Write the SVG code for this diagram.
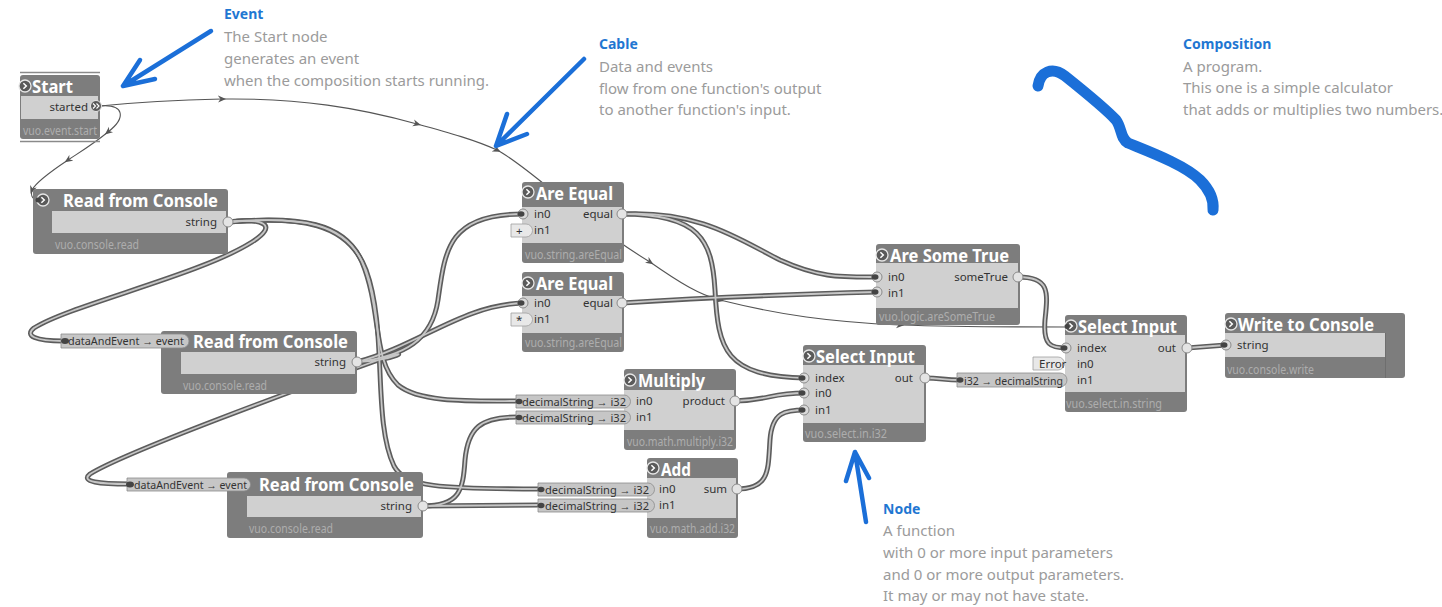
<svg xmlns="http://www.w3.org/2000/svg" xmlns:xlink="http://www.w3.org/1999/xlink" width="1442" height="607" viewBox="0 0 1442 607">
<style>
.nb{fill:#7d7d7d}
.bd{fill:#d0d0d0}
.tt{font-family:"Noto Sans","Open Sans",sans-serif;font-weight:bold;font-size:18px;fill:#fff}
.pl{font-family:"Noto Sans",sans-serif;font-size:11.5px;fill:#333}
.ft{font-family:"Noto Sans",sans-serif;font-size:12px;fill:#adadad}
.hd{font-family:"Noto Sans",sans-serif;font-weight:bold;font-size:14px;fill:#1f77d2}
.an{font-family:"Noto Sans",sans-serif;font-size:15px;fill:#9b9b9b}
.co{fill:none;stroke:#5c5c5c;stroke-width:5;stroke-linecap:round}
.ci{fill:none;stroke:#c6c6c6;stroke-width:1.8;stroke-linecap:round}
.ev{fill:none;stroke:#555;stroke-width:1.1}
.ba{fill:none;stroke:#1b6fd8;stroke-width:4.5;stroke-linecap:round;stroke-linejoin:round}
.bs{fill:none;stroke:#1b6fd8;stroke-width:11;stroke-linecap:round;stroke-linejoin:round}
.ip{fill:#dadada;stroke:#8a8a8a;stroke-width:1}
.op{fill:#e4e4e4;stroke:#8a8a8a;stroke-width:1}
.dot{fill:#444}
.cv{fill:#c6c6c6;stroke:#8c8c8c;stroke-width:0.8}
.cst{fill:#e8e8e8;stroke:#a0a0a0;stroke-width:0.8}
</style>
<defs>
<marker id="ea" markerWidth="9" markerHeight="8" refX="4" refY="4" orient="auto" markerUnits="userSpaceOnUse">
<path d="M0,0.5 L8,4 L0,7.5 L2.5,4 Z" fill="#555"/>
</marker>
<g id="evp"><circle r="6" fill="#5a5a5a" stroke="#e6e6e6" stroke-width="1.3"/><path d="M-1.6,-2.8 L1.3,0 L-1.6,2.8" fill="none" stroke="#fff" stroke-width="1.5"/></g>
</defs>

<g id="connectors">
<!-- event cables -->
<path class="ev" marker-mid="url(#ea)" d="M100,106 C125,104 126,118 108,132 C92,145 80,152 68,160 C50,172 36,182 32,190 C30,197 34,200 38,200"/>
<path class="ev" marker-mid="url(#ea)" d="M100,106 C140,102 180,100 222,99 C300,98 360,108 417,124 C450,133 475,140 497,150 C520,162 550,190 584,216 C610,236 630,250 650,262 C680,283 700,295 720,300 C780,315 830,322 900,325 C960,327 1020,327 1066,327"/>
<!-- data cables outer -->
<path class="co" d="M228,222 C300,216 345,222 362,262 C382,310 372,360 398,385 C420,403 470,401 518,401"/>
<path class="co" d="M228,222 C300,216 348,222 366,270 C388,330 372,420 394,466 C405,487 440,489 540,489"/>
<path class="co" d="M228,222 C262,218 280,224 252,242 C200,275 70,305 34,328 C24,336 36,341 63,341"/>
<path class="co" d="M357,362 C405,356 432,340 438,300 C445,250 448,214 523,214"/>
<path class="co" d="M357,362 C420,345 462,305 523,303"/>
<path class="co" d="M357,362 C398,360 412,348 384,358 C300,388 125,452 90,474 C80,482 100,484 129,484"/>
<path class="co" d="M423,506 C460,506 463,490 465,460 C468,428 480,417 518,417"/>
<path class="co" d="M423,506 L540,505"/>
<path class="co" d="M622,214 C700,210 740,240 780,260 C820,278 840,277 877,277"/>
<path class="co" d="M622,214 C700,214 712,240 715,290 C718,350 725,376 805,378"/>
<path class="co" d="M622,303 C700,298 800,294 877,292"/>
<path class="co" d="M1018,277 C1050,277 1048,292 1045,320 C1043,345 1050,348 1067,348"/>
<path class="co" d="M735,401 C770,400 770,393 805,393"/>
<path class="co" d="M737,489 C770,489 768,470 770,440 C772,412 785,410 805,410"/>
<path class="co" d="M925,378 C940,378 945,380 959,380"/>
<path class="co" d="M1187,348 L1226,345"/>
<!-- data cables inner -->
<path class="ci" d="M228,222 C300,216 345,222 362,262 C382,310 372,360 398,385 C420,403 470,401 518,401"/>
<path class="ci" d="M228,222 C300,216 348,222 366,270 C388,330 372,420 394,466 C405,487 440,489 540,489"/>
<path class="ci" d="M228,222 C262,218 280,224 252,242 C200,275 70,305 34,328 C24,336 36,341 63,341"/>
<path class="ci" d="M357,362 C405,356 432,340 438,300 C445,250 448,214 523,214"/>
<path class="ci" d="M357,362 C420,345 462,305 523,303"/>
<path class="ci" d="M357,362 C398,360 412,348 384,358 C300,388 125,452 90,474 C80,482 100,484 129,484"/>
<path class="ci" d="M423,506 C460,506 463,490 465,460 C468,428 480,417 518,417"/>
<path class="ci" d="M423,506 L540,505"/>
<path class="ci" d="M622,214 C700,210 740,240 780,260 C820,278 840,277 877,277"/>
<path class="ci" d="M622,214 C700,214 712,240 715,290 C718,350 725,376 805,378"/>
<path class="ci" d="M622,303 C700,298 800,294 877,292"/>
<path class="ci" d="M1018,277 C1050,277 1048,292 1045,320 C1043,345 1050,348 1067,348"/>
<path class="ci" d="M735,401 C770,400 770,393 805,393"/>
<path class="ci" d="M737,489 C770,489 768,470 770,440 C772,412 785,410 805,410"/>
<path class="ci" d="M925,378 C940,378 945,380 959,380"/>
<path class="ci" d="M1187,348 L1226,345"/>
</g>

<!-- Start -->
<g id="node-start">
<line x1="20" y1="72.5" x2="100" y2="72.5" stroke="#8a8a8a" stroke-width="1.5"/>
<rect class="nb" x="20" y="75" width="80" height="64" rx="3"/>
<line x1="20" y1="141.5" x2="100" y2="141.5" stroke="#8a8a8a" stroke-width="1.5"/>
<rect class="bd" x="21" y="96" width="77" height="23"/>
<use href="#evp" x="25" y="86"/>
<text class="tt" x="32" y="93" textLength="41" lengthAdjust="spacingAndGlyphs">Start</text>
<text class="pl" x="88" y="111" text-anchor="end">started</text>
<circle cx="96" cy="106" r="5.5" fill="#5a5a5a" stroke="#e6e6e6" stroke-width="1"/>
<path d="M93,103.5 L95.5,106 L93,108.5 M96.5,103.5 L99,106 L96.5,108.5" fill="none" stroke="#fff" stroke-width="1.1"/>
<text class="ft" x="23" y="135" textLength="74" lengthAdjust="spacingAndGlyphs">vuo.event.start</text>
</g>

<!-- Read from Console 1 -->
<g id="node-read1">
<rect class="nb" x="33" y="189" width="195" height="65" rx="3"/>
<rect class="bd" x="52" y="211" width="174" height="22"/>
<use href="#evp" x="43" y="200"/>
<circle class="dot" cx="38" cy="200" r="2.5"/>
<text class="tt" x="63" y="207" textLength="155" lengthAdjust="spacingAndGlyphs">Read from Console</text>
<text class="pl" x="217" y="226" text-anchor="end">string</text>
<circle class="op" cx="228" cy="222" r="5"/>
<text class="ft" x="55" y="249" textLength="84" lengthAdjust="spacingAndGlyphs">vuo.console.read</text>
</g>

<!-- Read from Console 2 -->
<g id="node-read2">
<rect class="nb" x="161" y="331" width="196" height="63" rx="3"/>
<rect class="bd" x="181" y="352" width="174" height="22"/>
<path class="cv" d="M61,334 H182 A7,7 0 0 1 182,348 H61 Z"/>
<ellipse class="dot" cx="65" cy="341" rx="4" ry="3"/>
<text class="pl" x="68" y="345" textLength="116" lengthAdjust="spacingAndGlyphs">dataAndEvent → event</text>
<text class="tt" x="193" y="348" textLength="155" lengthAdjust="spacingAndGlyphs">Read from Console</text>
<text class="pl" x="346" y="366" text-anchor="end">string</text>
<circle class="op" cx="357" cy="362" r="5"/>
<text class="ft" x="183" y="390" textLength="84" lengthAdjust="spacingAndGlyphs">vuo.console.read</text>
</g>

<!-- Read from Console 3 -->
<g id="node-read3">
<rect class="nb" x="227" y="472" width="196" height="66" rx="3"/>
<rect class="bd" x="247" y="496" width="174" height="21"/>
<path class="cv" d="M127,478 H244 A6.5,6.5 0 0 1 244,491 H127 Z"/>
<ellipse class="dot" cx="130" cy="484.5" rx="4" ry="3"/>
<text class="pl" x="134" y="488.5" textLength="113" lengthAdjust="spacingAndGlyphs">dataAndEvent → event</text>
<text class="tt" x="259" y="491" textLength="155" lengthAdjust="spacingAndGlyphs">Read from Console</text>
<text class="pl" x="412" y="510" text-anchor="end">string</text>
<circle class="op" cx="423" cy="506" r="5"/>
<text class="ft" x="249" y="533" textLength="84" lengthAdjust="spacingAndGlyphs">vuo.console.read</text>
</g>

<!-- Are Equal 1 -->
<g id="node-areequal1">
<rect class="nb" x="522" y="182" width="102" height="81" rx="3"/>
<rect class="bd" x="522" y="207" width="100" height="36"/>
<use href="#evp" x="528" y="192"/>
<text class="tt" x="536" y="200" textLength="77" lengthAdjust="spacingAndGlyphs">Are Equal</text>
<circle class="ip" cx="523" cy="214" r="5"/><ellipse class="dot" cx="521" cy="214" rx="3.5" ry="2.8"/>
<circle class="ip" cx="523" cy="230" r="5"/>
<path class="cst" d="M511,224 H526 A6.5,6.5 0 0 1 526,237 H511 Z"/>
<text class="pl" x="516" y="234.5">+</text>
<text class="pl" x="534" y="218">in0</text>
<text class="pl" x="534" y="234">in1</text>
<text class="pl" x="613" y="218" text-anchor="end">equal</text>
<circle class="op" cx="622" cy="214" r="5"/>
<text class="ft" x="525" y="259" textLength="97" lengthAdjust="spacingAndGlyphs">vuo.string.areEqual</text>
</g>

<!-- Are Equal 2 -->
<g id="node-areequal2">
<rect class="nb" x="522" y="272" width="102" height="80" rx="3"/>
<rect class="bd" x="522" y="296" width="100" height="37"/>
<use href="#evp" x="528" y="283"/>
<text class="tt" x="536" y="290" textLength="77" lengthAdjust="spacingAndGlyphs">Are Equal</text>
<circle class="ip" cx="523" cy="303" r="5"/><ellipse class="dot" cx="521" cy="303" rx="3.5" ry="2.8"/>
<circle class="ip" cx="523" cy="319" r="5"/>
<path class="cst" d="M511,313 H526 A6.5,6.5 0 0 1 526,326 H511 Z"/>
<text class="pl" x="516" y="324">*</text>
<text class="pl" x="534" y="307">in0</text>
<text class="pl" x="534" y="323">in1</text>
<text class="pl" x="613" y="307" text-anchor="end">equal</text>
<circle class="op" cx="622" cy="303" r="5"/>
<text class="ft" x="525" y="347" textLength="97" lengthAdjust="spacingAndGlyphs">vuo.string.areEqual</text>
</g>

<!-- Are Some True -->
<g id="node-aresometrue">
<rect class="nb" x="876" y="244" width="144" height="81" rx="3"/>
<rect class="bd" x="876" y="263" width="142" height="45"/>
<use href="#evp" x="882" y="255"/>
<text class="tt" x="890" y="262" textLength="119" lengthAdjust="spacingAndGlyphs">Are Some True</text>
<circle class="ip" cx="877" cy="277" r="5"/><ellipse class="dot" cx="875" cy="277" rx="3.5" ry="2.8"/>
<circle class="ip" cx="877" cy="292" r="5"/><ellipse class="dot" cx="875" cy="292" rx="3.5" ry="2.8"/>
<text class="pl" x="888" y="281">in0</text>
<text class="pl" x="888" y="297">in1</text>
<text class="pl" x="1008" y="281" text-anchor="end">someTrue</text>
<circle class="op" cx="1018" cy="277" r="5"/>
<text class="ft" x="879" y="321" textLength="116" lengthAdjust="spacingAndGlyphs">vuo.logic.areSomeTrue</text>
</g>

<!-- Select Input (middle) -->
<g id="node-select1">
<rect class="nb" x="803" y="345" width="123" height="97" rx="3"/>
<rect class="bd" x="803" y="365" width="121" height="58"/>
<use href="#evp" x="809" y="356"/>
<text class="tt" x="816" y="363" textLength="99" lengthAdjust="spacingAndGlyphs">Select Input</text>
<circle class="ip" cx="804" cy="378" r="5"/><ellipse class="dot" cx="802" cy="378" rx="3.5" ry="2.8"/>
<circle class="ip" cx="804" cy="393" r="5"/><ellipse class="dot" cx="802" cy="393" rx="3.5" ry="2.8"/>
<circle class="ip" cx="804" cy="410" r="5"/><ellipse class="dot" cx="802" cy="410" rx="3.5" ry="2.8"/>
<text class="pl" x="815" y="382">index</text>
<text class="pl" x="815" y="397">in0</text>
<text class="pl" x="815" y="414">in1</text>
<text class="pl" x="913" y="382" text-anchor="end">out</text>
<circle class="op" cx="925" cy="378" r="5"/>
<text class="ft" x="805" y="438" textLength="82" lengthAdjust="spacingAndGlyphs">vuo.select.in.i32</text>
</g>

<!-- Multiply -->
<g id="node-multiply">
<rect class="nb" x="624" y="369" width="112" height="81" rx="3"/>
<rect class="bd" x="624" y="390" width="110" height="40"/>
<use href="#evp" x="630" y="380"/>
<text class="tt" x="638" y="387" textLength="67" lengthAdjust="spacingAndGlyphs">Multiply</text>
<path class="cv" d="M516,395 H624 A6.5,6.5 0 0 1 624,408 H516 Z"/>
<path class="cv" d="M516,411 H624 A6.5,6.5 0 0 1 624,424 H516 Z"/>
<ellipse class="dot" cx="519" cy="401.5" rx="3.5" ry="2.8"/>
<ellipse class="dot" cx="519" cy="417.5" rx="3.5" ry="2.8"/>
<text class="pl" x="522" y="405.5" textLength="104" lengthAdjust="spacingAndGlyphs">decimalString → i32</text>
<text class="pl" x="522" y="421.5" textLength="104" lengthAdjust="spacingAndGlyphs">decimalString → i32</text>
<text class="pl" x="636" y="405">in0</text>
<text class="pl" x="636" y="421">in1</text>
<text class="pl" x="725" y="405" text-anchor="end">product</text>
<circle class="op" cx="735" cy="401" r="5"/>
<text class="ft" x="627" y="446" textLength="106" lengthAdjust="spacingAndGlyphs">vuo.math.multiply.i32</text>
</g>

<!-- Add -->
<g id="node-add">
<rect class="nb" x="647" y="458" width="91" height="80" rx="3"/>
<rect class="bd" x="647" y="478" width="89" height="40"/>
<use href="#evp" x="653" y="468"/>
<text class="tt" x="661" y="476" textLength="30" lengthAdjust="spacingAndGlyphs">Add</text>
<path class="cv" d="M538,483 H648 A6.5,6.5 0 0 1 648,496 H538 Z"/>
<path class="cv" d="M538,499 H648 A6.5,6.5 0 0 1 648,512 H538 Z"/>
<ellipse class="dot" cx="541" cy="489.5" rx="3.5" ry="2.8"/>
<ellipse class="dot" cx="541" cy="505.5" rx="3.5" ry="2.8"/>
<text class="pl" x="545" y="493.5" textLength="104" lengthAdjust="spacingAndGlyphs">decimalString → i32</text>
<text class="pl" x="545" y="509.5" textLength="104" lengthAdjust="spacingAndGlyphs">decimalString → i32</text>
<text class="pl" x="659" y="493">in0</text>
<text class="pl" x="659" y="509">in1</text>
<text class="pl" x="727" y="493" text-anchor="end">sum</text>
<circle class="op" cx="737" cy="489" r="5"/>
<text class="ft" x="650" y="533" textLength="85" lengthAdjust="spacingAndGlyphs">vuo.math.add.i32</text>
</g>

<!-- Select Input (right) -->
<g id="node-select2">
<rect class="nb" x="1065" y="315" width="122" height="97" rx="3"/>
<rect class="bd" x="1065" y="335" width="120" height="57"/>
<use href="#evp" x="1071" y="326"/>
<circle class="dot" cx="1067" cy="326.5" r="2.5"/>
<text class="tt" x="1078" y="333" textLength="99" lengthAdjust="spacingAndGlyphs">Select Input</text>
<circle class="ip" cx="1066" cy="348" r="5"/><ellipse class="dot" cx="1064" cy="348" rx="3.5" ry="2.8"/>
<path class="cst" d="M1033,357 H1058 A6.5,6.5 0 0 1 1058,370 H1033 Z"/>
<text class="pl" x="1039" y="368">Error</text>
<path class="cv" d="M957,373 H1060 A7,7 0 0 1 1060,387 H957 Z"/>
<ellipse class="dot" cx="960" cy="380" rx="3.5" ry="2.8"/>
<text class="pl" x="964" y="384.5" textLength="99" lengthAdjust="spacingAndGlyphs">i32 → decimalString</text>
<text class="pl" x="1077" y="352">index</text>
<text class="pl" x="1077" y="368">in0</text>
<text class="pl" x="1077" y="384">in1</text>
<text class="pl" x="1176" y="352" text-anchor="end">out</text>
<circle class="op" cx="1187" cy="348" r="5"/>
<text class="ft" x="1066" y="408" textLength="96" lengthAdjust="spacingAndGlyphs">vuo.select.in.string</text>
</g>

<!-- Write to Console -->
<g id="node-write">
<rect class="nb" x="1225" y="313" width="180" height="65" rx="3"/>
<rect class="bd" x="1225" y="333" width="160" height="24"/>
<line x1="1385.5" y1="333" x2="1385.5" y2="378" stroke="#6e6e6e" stroke-width="1"/>
<use href="#evp" x="1231" y="324"/>
<text class="tt" x="1238" y="331" textLength="136" lengthAdjust="spacingAndGlyphs">Write to Console</text>
<circle class="ip" cx="1226" cy="345" r="5"/><ellipse class="dot" cx="1224" cy="345" rx="3.5" ry="2.8"/>
<text class="pl" x="1237" y="349">string</text>
<text class="ft" x="1227" y="374" textLength="87" lengthAdjust="spacingAndGlyphs">vuo.console.write</text>
</g>

<!-- annotations -->
<g id="ann-event">
<path class="ba" d="M211,31 L123,86 M123,86 L155,79 M123,86 L140,60"/>
<text class="hd" x="224" y="19">Event</text>
<text class="an" x="224" y="42">The Start node</text>
<text class="an" x="224" y="64">generates an event</text>
<text class="an" x="224" y="86">when the composition starts running.</text>
</g>
<g id="ann-cable">
<path class="ba" d="M584,59 L496,146 M496,146 L527,134 M496,146 L507,114"/>
<text class="hd" x="599" y="49">Cable</text>
<text class="an" x="599" y="72">Data and events</text>
<text class="an" x="599" y="94">flow from one function's output</text>
<text class="an" x="599" y="115">to another function's input.</text>
</g>
<g id="ann-comp">
<path class="bs" d="M1038,86 C1040,72 1052,66 1065,76 C1085,92 1105,108 1116,120 C1122,128 1120,138 1128,143 C1150,152 1185,165 1200,180 C1210,190 1214,200 1213,210"/>
<text class="hd" x="1183" y="49">Composition</text>
<text class="an" x="1183" y="72">A program.</text>
<text class="an" x="1183" y="93">This one is a simple calculator</text>
<text class="an" x="1183" y="115">that adds or multiplies two numbers.</text>
</g>
<g id="ann-node">
<path class="ba" d="M866,522 L855,452 M855,452 L846,481 M855,452 L869,478"/>
<text class="hd" x="883" y="514">Node</text>
<text class="an" x="883" y="536">A function</text>
<text class="an" x="883" y="558">with 0 or more input parameters</text>
<text class="an" x="883" y="580">and 0 or more output parameters.</text>
<text class="an" x="883" y="601">It may or may not have state.</text>
</g>
</svg>
